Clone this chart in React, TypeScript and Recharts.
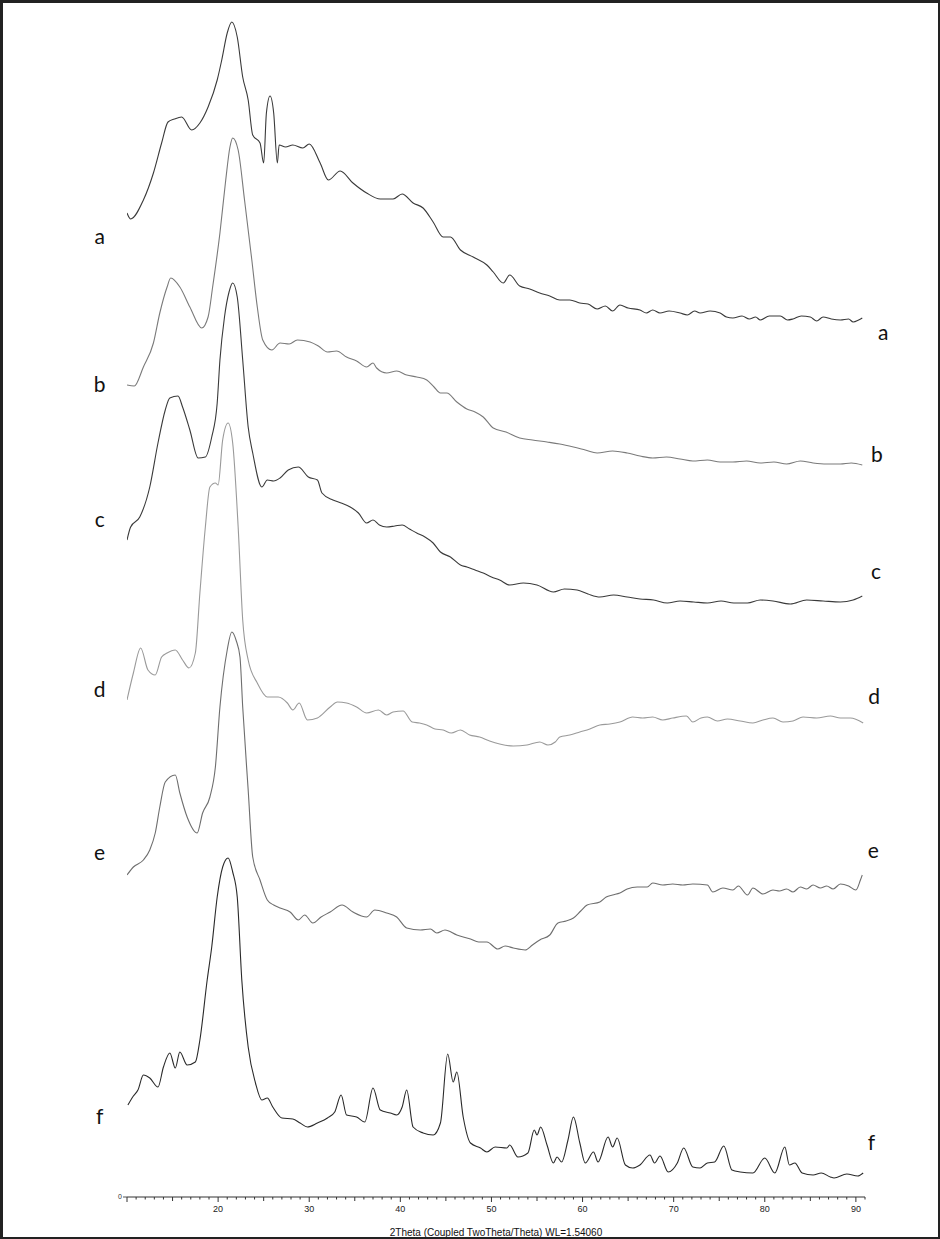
import React from 'react';
import { LineChart, Line, XAxis, YAxis, ReferenceDot } from 'recharts';

// 2-theta positions and intensities (stacked offsets baked in)
const curveA = [
  [10.0, 984], [10.4, 978], [11.8, 997], [12.9, 1024], [13.8, 1054], [14.5, 1075], [15.2, 1078],
  [16.0, 1080], [17.1, 1067], [18.0, 1074], [18.9, 1090], [19.9, 1117], [20.4, 1137], [21.0, 1164],
  [21.5, 1175], [22.1, 1160], [22.7, 1120], [23.3, 1097], [23.8, 1062], [24.6, 1054], [25.0, 1034],
  [25.3, 1084], [25.7, 1101], [26.1, 1084], [26.5, 1034], [26.7, 1052], [27.4, 1050], [28.2, 1052],
  [29.3, 1049], [30.0, 1053], [31.2, 1034], [32.1, 1017], [33.4, 1026], [34.8, 1014], [36.3, 1004],
  [37.8, 998], [39.2, 998], [40.2, 1003], [41.4, 994], [42.5, 989], [43.6, 975], [44.7, 960],
  [45.5, 960], [46.6, 947], [48.0, 940], [49.5, 932], [50.2, 925], [51.3, 914], [52.0, 922],
  [53.1, 911], [54.2, 908], [55.3, 904], [56.4, 901], [57.5, 897], [58.6, 897], [59.7, 894],
  [60.6, 893], [61.6, 888], [62.5, 891], [63.3, 886], [64.1, 892], [65.0, 889], [66.3, 887],
  [67.0, 884], [67.7, 887], [68.5, 884], [69.5, 886], [70.7, 884], [71.5, 882], [72.3, 886],
  [72.9, 884], [74.0, 886], [75.1, 884], [75.8, 880], [76.5, 879], [77.5, 881], [78.3, 878],
  [79.0, 880], [79.5, 877], [80.5, 881], [81.7, 881], [82.5, 877], [83.1, 878], [84.0, 881],
  [85.0, 880], [85.7, 876], [86.4, 880], [87.3, 878], [88.3, 877], [89.2, 878], [89.7, 875],
  [90.3, 877], [90.7, 879],
];

const curveB = [
  [10.0, 812], [10.8, 811], [11.8, 830], [12.9, 854], [13.6, 884], [14.4, 910], [14.8, 919],
  [15.8, 910], [16.9, 890], [18.2, 869], [18.9, 880], [19.4, 910], [20.2, 964], [20.8, 1014],
  [21.3, 1050], [21.6, 1059], [22.2, 1047], [22.9, 997], [23.7, 937], [24.3, 890], [24.9, 857],
  [25.9, 847], [26.8, 854], [27.8, 853], [28.7, 857], [30.1, 855], [31.0, 851], [32.0, 845],
  [33.0, 846], [34.1, 840], [35.2, 836], [36.3, 830], [37.0, 834], [37.4, 829], [38.5, 824],
  [39.6, 826], [40.7, 822], [41.8, 820], [42.9, 817], [43.7, 810], [44.4, 804], [45.1, 804],
  [46.2, 795], [47.3, 788], [48.2, 785], [49.1, 780], [50.2, 769], [51.6, 765], [53.1, 759],
  [54.5, 757], [56.1, 755], [57.5, 753], [59.0, 750], [60.3, 747], [61.6, 744], [63.3, 746],
  [64.9, 744], [66.3, 741], [67.7, 739], [69.2, 740], [70.7, 738], [72.1, 736], [73.7, 737],
  [75.1, 735], [76.5, 735], [78.0, 736], [79.5, 734], [81.0, 735], [82.4, 733], [83.9, 736],
  [85.3, 734], [86.8, 733], [88.3, 733], [89.5, 734], [90.7, 732],
];

const curveC = [
  [10.0, 657], [10.4, 670], [11.4, 680], [12.5, 710], [13.4, 754], [14.2, 787], [14.7, 799],
  [15.6, 801], [16.1, 790], [16.9, 767], [17.8, 739], [18.6, 740], [19.3, 760], [19.9, 794],
  [20.2, 837], [20.7, 880], [21.2, 905], [21.6, 914], [22.1, 900], [22.7, 837], [23.3, 770],
  [23.8, 744], [24.8, 710], [25.4, 717], [26.1, 716], [26.8, 719], [27.7, 727], [28.8, 730],
  [29.9, 720], [30.9, 717], [31.4, 704], [32.6, 697], [33.5, 694], [34.5, 690], [35.4, 684],
  [36.3, 674], [37.0, 677], [37.7, 672], [38.5, 670], [39.4, 671], [40.2, 672], [41.0, 668],
  [41.8, 664], [42.7, 660], [43.6, 654], [44.4, 645], [45.5, 640], [46.6, 632], [47.3, 630],
  [48.2, 627], [49.1, 624], [50.0, 620], [50.9, 617], [52.0, 612], [53.5, 614], [55.0, 612],
  [56.8, 605], [58.0, 608], [59.4, 607], [60.6, 603], [61.9, 600], [63.4, 602], [64.9, 600],
  [66.3, 598], [67.8, 597], [69.3, 594], [70.7, 596], [72.2, 595], [73.7, 594], [75.2, 596],
  [76.6, 594], [78.1, 594], [79.5, 597], [80.9, 596], [82.8, 593], [84.6, 597], [86.4, 596],
  [88.3, 595], [89.7, 597], [90.7, 601],
];

const curveD = [
  [10.0, 497], [10.7, 524], [11.5, 549], [12.3, 527], [13.1, 522], [13.8, 540], [14.4, 544],
  [15.3, 547], [16.1, 537], [16.8, 529], [17.5, 544], [18.0, 604], [18.6, 670], [19.1, 710],
  [19.7, 714], [20.0, 712], [20.5, 757], [21.1, 774], [21.6, 754], [22.2, 670], [22.7, 577],
  [23.3, 537], [24.3, 514], [25.4, 500], [26.6, 500], [27.6, 494], [28.2, 487], [28.9, 494],
  [29.8, 477], [30.9, 479], [32.3, 490], [33.1, 495], [34.1, 494], [35.2, 490], [36.3, 484],
  [37.6, 487], [38.5, 482], [39.2, 485], [40.3, 486], [41.3, 475], [42.1, 474], [42.9, 472],
  [43.8, 468], [44.7, 467], [45.6, 464], [46.6, 467], [47.6, 462], [48.7, 460], [49.8, 456],
  [50.9, 453], [52.4, 451], [53.9, 452], [55.3, 455], [56.2, 452], [57.0, 455], [57.5, 460],
  [58.6, 462], [59.7, 465], [60.8, 468], [61.9, 472], [63.0, 473], [64.1, 475], [65.5, 480],
  [66.6, 479], [67.7, 480], [68.8, 477], [69.9, 479], [71.4, 481], [72.1, 475], [73.0, 479],
  [73.7, 480], [74.8, 476], [75.9, 478], [77.3, 476], [78.7, 474], [79.8, 477], [80.9, 479],
  [82.0, 475], [83.1, 476], [84.2, 480], [85.7, 479], [87.2, 481], [88.3, 479], [89.4, 479],
  [90.8, 474],
];

const curveE = [
  [10.0, 322], [10.7, 330], [11.8, 337], [12.5, 347], [13.1, 364], [13.6, 390], [14.2, 415],
  [15.3, 422], [15.8, 404], [16.6, 380], [17.7, 364], [18.3, 384], [19.1, 400], [19.7, 430],
  [20.2, 490], [21.0, 547], [21.5, 565], [22.0, 556], [22.4, 540], [22.7, 490], [23.3, 407],
  [23.8, 340], [24.6, 317], [25.4, 297], [26.1, 292], [26.8, 289], [27.9, 285], [28.8, 277],
  [29.5, 282], [30.4, 274], [31.3, 280], [32.3, 285], [33.6, 292], [34.8, 285], [36.3, 280],
  [37.2, 287], [38.5, 284], [39.6, 280], [40.7, 269], [42.2, 267], [43.3, 268], [44.0, 264],
  [44.9, 267], [46.2, 262], [47.7, 258], [48.6, 255], [49.5, 255], [50.7, 248], [51.5, 251],
  [52.4, 249], [53.7, 247], [54.5, 252], [55.3, 257], [56.4, 262], [57.3, 274], [58.2, 276],
  [59.0, 279], [59.8, 286], [60.5, 292], [61.9, 295], [62.6, 300], [63.3, 302], [64.1, 304],
  [64.9, 308], [66.0, 310], [67.1, 310], [67.7, 314], [68.8, 312], [69.9, 313], [71.0, 312],
  [72.1, 313], [73.7, 312], [74.3, 305], [75.4, 309], [76.5, 307], [77.1, 311], [78.1, 302],
  [78.7, 309], [79.8, 303], [80.9, 307], [81.6, 306], [82.4, 308], [83.1, 305], [83.9, 310],
  [84.6, 308], [85.3, 312], [86.1, 309], [86.8, 311], [87.5, 308], [88.3, 313], [89.2, 311],
  [90.0, 307], [90.5, 317], [90.7, 322],
];

const curveF = [
  [10.1, 92], [10.7, 101], [11.2, 107], [11.8, 122], [12.5, 119], [13.4, 110], [14.0, 130],
  [14.7, 144], [15.3, 129], [15.8, 145], [16.6, 132], [17.5, 135], [18.0, 157], [18.8, 217],
  [19.3, 250], [19.9, 300], [20.5, 330], [21.1, 339], [21.6, 325], [22.1, 300], [22.6, 217],
  [23.3, 150], [24.1, 114], [24.8, 97], [25.4, 99], [26.0, 90], [27.0, 79], [28.2, 78],
  [29.0, 74], [29.8, 70], [30.9, 74], [32.0, 79], [32.8, 85], [33.5, 102], [34.1, 82],
  [35.2, 80], [36.1, 75], [37.0, 109], [37.8, 87], [38.9, 84], [39.6, 82], [40.2, 90],
  [40.7, 107], [41.4, 70], [42.5, 64], [43.6, 62], [44.4, 74], [45.2, 143], [45.8, 115],
  [46.2, 125], [46.9, 80], [47.7, 54], [48.8, 49], [49.5, 45], [50.4, 50], [51.7, 49],
  [52.0, 52], [52.9, 40], [54.0, 44], [54.7, 67], [55.0, 62], [55.4, 70], [56.1, 52],
  [56.8, 34], [57.2, 40], [57.7, 35], [58.4, 57], [59.0, 80], [59.7, 54], [60.3, 34],
  [61.2, 45], [61.7, 35], [62.8, 60], [63.3, 50], [63.8, 59], [64.7, 32], [65.5, 29],
  [66.3, 32], [67.4, 42], [67.9, 34], [68.5, 41], [69.4, 25], [70.4, 34], [71.1, 49],
  [72.1, 30], [72.9, 29], [73.7, 34], [74.5, 35], [75.5, 51], [76.4, 27], [77.3, 25],
  [78.7, 24], [80.0, 39], [81.1, 24], [82.2, 50], [82.7, 32], [83.3, 34], [84.1, 24],
  [85.3, 22], [86.2, 24], [87.2, 20], [87.6, 19], [89.0, 23], [90.2, 21], [90.8, 24],
];

const seriesNames = ['a', 'b', 'c', 'd', 'e', 'f'];
const seriesPoints = [curveA, curveB, curveC, curveD, curveE, curveF];
const seriesColors = ['#3a3a3a', '#7a7a7a', '#3a3a3a', '#9a9a9a', '#6e6e6e', '#2a2a2a'];

// label anchors for the a–f captions (left and right of the traces)
const leftLabelX = 7.0;
const rightLabelX = [93.0, 92.3, 92.2, 92.0, 91.9, 91.7];
const leftLabelY = [960, 812, 677, 507, 344, 80];
const rightLabelY = [864, 742, 625, 500, 346, 54];

const xTicks = Array.from({ length: 82 }, (_, i) => 10 + i);

const toRows = (pts: number[][]) => pts.map(([x, y]) => ({ x, y }));

function AxisTick(props: any) {
  const { x, y, payload } = props;
  const v = payload.value;
  const len = v % 10 === 0 ? 5 : v % 5 === 0 ? 4 : 2.5;
  return (
    <g>
      <line x1={x} x2={x} y1={y} y2={y + len} stroke="#333" strokeWidth={1} />
      {v % 10 === 0 && v !== 10 && (
        <text x={x} y={y + 15} textAnchor="middle" fontSize={9} fill="#222" fontFamily="Liberation Sans, Arial">
          {v}
        </text>
      )}
    </g>
  );
}

export default function App() {
  return (
    <div style={{ position: 'absolute', left: 0, top: 0, width: 940, height: 1239, background: '#fff' }}>
      <LineChart width={940} height={1239} margin={{ top: 17, right: 75, bottom: 0, left: 117 }}>
        <XAxis
          type="number"
          dataKey="x"
          domain={[10, 91]}
          ticks={xTicks}
          interval={0}
          tick={<AxisTick />}
          tickLine={false}
          tickSize={0}
          tickMargin={0}
          height={42}
          axisLine={{ stroke: '#333' }}
          allowDataOverflow
          label={{
            value: '2Theta (Coupled TwoTheta/Theta) WL=1.54060',
            position: 'insideBottom',
            offset: 3,
            fontSize: 10,
            fill: '#111',
            fontFamily: 'Liberation Sans, Arial',
          }}
        />
        <YAxis
          type="number"
          domain={[0, 1180]}
          ticks={[0]}
          width={10}
          axisLine={false}
          tickSize={4}
          tickMargin={1}
          tickLine={{ stroke: '#555' }}
          tick={{ fontSize: 7, fill: '#333', fontFamily: 'Liberation Sans, Arial' }}
          allowDataOverflow
        />
        {seriesPoints.map((pts, i) => (
          <Line
            key={seriesNames[i]}
            data={toRows(pts)}
            dataKey="y"
            type="monotone"
            stroke={seriesColors[i]}
            strokeWidth={1.1}
            dot={false}
            isAnimationActive={false}
          />
        ))}
        {seriesNames.map((n, i) => (
          <ReferenceDot
            key={'l' + n}
            x={leftLabelX}
            y={leftLabelY[i]}
            r={0}
            ifOverflow="visible"
            label={{ value: n, position: 'center', fontSize: 21, fill: '#111', fontFamily: 'Lato, sans-serif' }}
          />
        ))}
        {seriesNames.map((n, i) => (
          <ReferenceDot
            key={'r' + n}
            x={rightLabelX[i]}
            y={rightLabelY[i]}
            r={0}
            ifOverflow="visible"
            label={{ value: n, position: 'center', fontSize: 21, fill: '#111', fontFamily: 'Lato, sans-serif' }}
          />
        ))}
      </LineChart>
      <div
        style={{
          position: 'absolute',
          left: 0,
          top: 0,
          width: 940,
          height: 1239,
          boxSizing: 'border-box',
          borderTop: '3px solid #222',
          borderLeft: '3px solid #222',
          borderRight: '2px solid #222',
          borderBottom: '2px solid #222',
          pointerEvents: 'none',
        }}
      />
    </div>
  );
}
